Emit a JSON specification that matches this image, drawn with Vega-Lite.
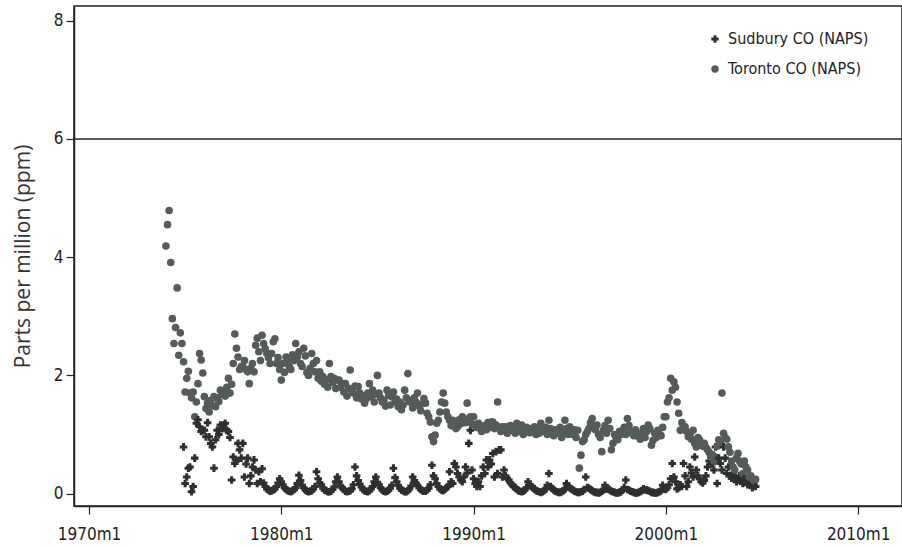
{
  "$schema": "https://vega.github.io/schema/vega-lite/v6.json",
  "autosize": {"type": "none"},
  "padding": {"left": 74, "top": 6, "right": 0, "bottom": 42},
  "width": 828,
  "height": 500,
  "background": "white",
  "config": {
    "view": {"stroke": "#222", "strokeWidth": 1.5},
    "axis": {"grid": false, "domainColor": "#222", "domainWidth": 1.5, "tickColor": "#222", "tickWidth": 1.2, "tickSize": 8, "labelFont": "DejaVu Sans Condensed, sans-serif", "labelFontSize": 17, "labelColor": "#222"},
    "legend": {"symbolSize": 55, "symbolOpacity": 1, "labelFont": "DejaVu Sans Condensed, sans-serif", "labelFontSize": 16, "labelColor": "#222", "rowPadding": 14, "labelOffset": 5, "labelLimit": 300}
  },
  "layer": [
    {
      "data": {"values": [
{"d":1974,"T":4.19},{"d":1974.083,"T":4.55},{"d":1974.167,"T":4.79},{"d":1974.25,"T":3.91},{"d":1974.333,"T":2.96},{"d":1974.417,"T":2.54},{"d":1974.5,"T":2.81},{"d":1974.583,"T":3.48},{"d":1974.667,"T":2.34},{"d":1974.75,"T":2.72},{"d":1974.833,"T":2.54},{"d":1974.917,"T":2.23,"S":0.79},
{"d":1975,"T":1.72,"S":0.17},{"d":1975.083,"T":1.95,"S":0.28},{"d":1975.167,"T":2.07,"S":0.43},{"d":1975.25,"T":1.70,"S":0.45},{"d":1975.333,"T":1.62,"S":0.03},{"d":1975.417,"T":1.72,"S":0.12},{"d":1975.5,"T":1.30,"S":0.60},{"d":1975.583,"T":1.55,"S":1.19},{"d":1975.667,"T":1.86,"S":1.25},{"d":1975.75,"T":2.37,"S":1.13},{"d":1975.833,"T":2.26,"S":1.05},{"d":1975.917,"T":2.04,"S":1.07},
{"d":1976,"T":1.64,"S":1.07},{"d":1976.083,"T":1.44,"S":0.96},{"d":1976.167,"T":1.53,"S":1.20},{"d":1976.25,"T":1.38,"S":0.96},{"d":1976.333,"T":1.58,"S":0.85},{"d":1976.417,"T":1.49,"S":0.79},{"d":1976.5,"T":1.64,"S":0.43},{"d":1976.583,"T":1.47,"S":0.91},{"d":1976.667,"T":1.62,"S":1.07},{"d":1976.75,"T":1.56,"S":1.00},{"d":1976.833,"T":1.75,"S":1.16},{"d":1976.917,"T":1.68,"S":1.10},
{"d":1977,"T":1.72,"S":1.16},{"d":1977.083,"T":1.65,"S":1.19},{"d":1977.167,"T":1.80,"S":1.07},{"d":1977.25,"T":1.95,"S":1.05},{"d":1977.333,"T":1.70,"S":0.95},{"d":1977.417,"T":1.85,"S":0.23},{"d":1977.5,"T":2.20,"S":0.62},{"d":1977.583,"T":2.70,"S":0.51},{"d":1977.667,"T":2.46,"S":0.55},{"d":1977.75,"T":2.31,"S":0.85},{"d":1977.833,"T":2.10,"S":0.74},{"d":1977.917,"T":2.15,"S":0.60},
{"d":1978,"T":2.15,"S":0.85},{"d":1978.083,"T":2.25,"S":0.28},{"d":1978.167,"T":2.10,"S":0.50},{"d":1978.25,"T":2.06,"S":0.60},{"d":1978.333,"T":1.86,"S":0.17},{"d":1978.417,"T":2.12,"S":0.30},{"d":1978.5,"T":2.20,"S":0.45},{"d":1978.583,"T":2.06,"S":0.57},{"d":1978.667,"T":2.51,"S":0.40},{"d":1978.75,"T":2.63,"S":0.17},{"d":1978.833,"T":2.40,"S":0.37},{"d":1978.917,"T":2.25,"S":0.20},
{"d":1979,"T":2.68,"S":0.42},{"d":1979.083,"T":2.54,"S":0.18},{"d":1979.167,"T":2.45,"S":0.12},{"d":1979.25,"T":2.37,"S":0.08},{"d":1979.333,"T":2.30,"S":0.06},{"d":1979.417,"T":2.20,"S":0.04},{"d":1979.5,"T":2.37,"S":0.05},{"d":1979.583,"T":2.57,"S":0.06},{"d":1979.667,"T":2.62,"S":0.08},{"d":1979.75,"T":2.20,"S":0.12},{"d":1979.833,"T":2.30,"S":0.18},{"d":1979.917,"T":2.10,"S":0.25},
{"d":1980,"T":1.92,"S":0.20},{"d":1980.083,"T":2.20,"S":0.15},{"d":1980.167,"T":2.05,"S":0.10},{"d":1980.25,"T":2.31,"S":0.07},{"d":1980.333,"T":2.25,"S":0.05},{"d":1980.417,"T":2.15,"S":0.04},{"d":1980.5,"T":2.10,"S":0.03},{"d":1980.583,"T":2.35,"S":0.05},{"d":1980.667,"T":2.25,"S":0.07},{"d":1980.75,"T":2.54,"S":0.10},{"d":1980.833,"T":2.31,"S":0.17},{"d":1980.917,"T":2.40,"S":0.31},
{"d":1981,"T":2.20,"S":0.22},{"d":1981.083,"T":2.15,"S":0.14},{"d":1981.167,"T":2.46,"S":0.10},{"d":1981.25,"T":2.33,"S":0.06},{"d":1981.333,"T":2.05,"S":0.04},{"d":1981.417,"T":2.00,"S":0.03},{"d":1981.5,"T":2.12,"S":0.04},{"d":1981.583,"T":2.37,"S":0.05},{"d":1981.667,"T":2.20,"S":0.08},{"d":1981.75,"T":2.06,"S":0.12},{"d":1981.833,"T":2.25,"S":0.37},{"d":1981.917,"T":1.95,"S":0.25},
{"d":1982,"T":2.06,"S":0.18},{"d":1982.083,"T":1.90,"S":0.15},{"d":1982.167,"T":1.98,"S":0.09},{"d":1982.25,"T":1.85,"S":0.06},{"d":1982.333,"T":1.92,"S":0.05},{"d":1982.417,"T":1.80,"S":0.03},{"d":1982.5,"T":2.20,"S":0.03},{"d":1982.583,"T":1.98,"S":0.04},{"d":1982.667,"T":1.88,"S":0.07},{"d":1982.75,"T":1.95,"S":0.11},{"d":1982.833,"T":1.78,"S":0.20},{"d":1982.917,"T":1.92,"S":0.28},
{"d":1983,"T":1.92,"S":0.20},{"d":1983.083,"T":1.80,"S":0.13},{"d":1983.167,"T":1.86,"S":0.10},{"d":1983.25,"T":1.72,"S":0.07},{"d":1983.333,"T":1.86,"S":0.04},{"d":1983.417,"T":1.65,"S":0.03},{"d":1983.5,"T":1.78,"S":0.04},{"d":1983.583,"T":2.09,"S":0.05},{"d":1983.667,"T":1.75,"S":0.08},{"d":1983.75,"T":1.70,"S":0.15},{"d":1983.833,"T":1.82,"S":0.45},{"d":1983.917,"T":1.62,"S":0.30},
{"d":1984,"T":1.81,"S":0.22},{"d":1984.083,"T":1.70,"S":0.16},{"d":1984.167,"T":1.60,"S":0.11},{"d":1984.25,"T":1.65,"S":0.07},{"d":1984.333,"T":1.53,"S":0.05},{"d":1984.417,"T":1.60,"S":0.04},{"d":1984.5,"T":1.70,"S":0.03},{"d":1984.583,"T":1.86,"S":0.05},{"d":1984.667,"T":1.64,"S":0.08},{"d":1984.75,"T":1.75,"S":0.12},{"d":1984.833,"T":1.55,"S":0.20},{"d":1984.917,"T":1.68,"S":0.28},
{"d":1985,"T":2.00,"S":0.19},{"d":1985.083,"T":1.70,"S":0.15},{"d":1985.167,"T":1.62,"S":0.10},{"d":1985.25,"T":1.55,"S":0.06},{"d":1985.333,"T":1.58,"S":0.04},{"d":1985.417,"T":1.48,"S":0.03},{"d":1985.5,"T":1.75,"S":0.04},{"d":1985.583,"T":1.66,"S":0.06},{"d":1985.667,"T":1.50,"S":0.09},{"d":1985.75,"T":1.64,"S":0.14},{"d":1985.833,"T":1.72,"S":0.43},{"d":1985.917,"T":1.55,"S":0.27},
{"d":1986,"T":1.60,"S":0.20},{"d":1986.083,"T":1.47,"S":0.14},{"d":1986.167,"T":1.55,"S":0.09},{"d":1986.25,"T":1.42,"S":0.06},{"d":1986.333,"T":1.50,"S":0.05},{"d":1986.417,"T":1.75,"S":0.03},{"d":1986.5,"T":1.62,"S":0.03},{"d":1986.583,"T":2.03,"S":0.05},{"d":1986.667,"T":1.55,"S":0.08},{"d":1986.75,"T":1.58,"S":0.13},{"d":1986.833,"T":1.45,"S":0.28},{"d":1986.917,"T":1.62,"S":0.22},
{"d":1987,"T":1.55,"S":0.18},{"d":1987.083,"T":1.70,"S":0.14},{"d":1987.167,"T":1.48,"S":0.10},{"d":1987.25,"T":1.40,"S":0.07},{"d":1987.333,"T":1.52,"S":0.05},{"d":1987.417,"T":1.61,"S":0.04},{"d":1987.5,"T":1.53,"S":0.04},{"d":1987.583,"T":1.36,"S":0.06},{"d":1987.667,"T":1.30,"S":0.09},{"d":1987.75,"T":1.21,"S":0.15},{"d":1987.833,"T":0.96,"S":0.48},{"d":1987.917,"T":0.88,"S":0.30},
{"d":1988,"T":0.99,"S":0.25},{"d":1988.083,"T":1.19,"S":0.17},{"d":1988.167,"T":1.24,"S":0.12},{"d":1988.25,"T":1.38,"S":0.08},{"d":1988.333,"T":1.55,"S":0.06},{"d":1988.417,"T":1.70,"S":0.05},{"d":1988.5,"T":1.53,"S":0.07},{"d":1988.583,"T":1.38,"S":0.10},{"d":1988.667,"T":1.30,"S":0.12},{"d":1988.75,"T":1.24,"S":0.37},{"d":1988.833,"T":1.15,"S":0.20},{"d":1988.917,"T":1.24,"S":0.17},
{"d":1989,"T":1.20,"S":0.51},{"d":1989.083,"T":1.10,"S":0.45},{"d":1989.167,"T":1.13,"S":0.34},{"d":1989.25,"T":1.25,"S":0.28},{"d":1989.333,"T":1.18,"S":0.23},{"d":1989.417,"T":1.30,"S":0.20},{"d":1989.5,"T":1.27,"S":0.28},{"d":1989.583,"T":1.20,"S":0.45},{"d":1989.667,"T":1.53,"S":0.35},{"d":1989.75,"T":1.25,"S":0.85},{"d":1989.833,"T":1.30,"S":1.07},{"d":1989.917,"T":1.18,"S":0.40},
{"d":1990,"T":1.30,"S":0.25},{"d":1990.083,"T":1.15,"S":0.17},{"d":1990.167,"T":1.12,"S":0.12},{"d":1990.25,"T":1.19,"S":0.20},{"d":1990.333,"T":1.10,"S":0.12},{"d":1990.417,"T":1.05,"S":0.30},{"d":1990.5,"T":1.10,"S":0.45},{"d":1990.583,"T":1.15,"S":0.34},{"d":1990.667,"T":1.08,"S":0.57},{"d":1990.75,"T":1.20,"S":0.45},{"d":1990.833,"T":1.12,"S":0.57},{"d":1990.917,"T":1.21,"S":0.50},
{"d":1991,"T":1.21,"S":0.68},{"d":1991.083,"T":1.10,"S":0.28},{"d":1991.167,"T":1.16,"S":0.71},{"d":1991.25,"T":1.55,"S":0.34},{"d":1991.333,"T":1.12,"S":0.74},{"d":1991.417,"T":1.05,"S":0.74},{"d":1991.5,"T":1.13,"S":0.28},{"d":1991.583,"T":1.08,"S":0.40},{"d":1991.667,"T":1.13,"S":0.30},{"d":1991.75,"T":1.02,"S":0.25},{"d":1991.833,"T":1.10,"S":0.23},{"d":1991.917,"T":1.15,"S":0.18},
{"d":1992,"T":1.07,"S":0.15},{"d":1992.083,"T":1.12,"S":0.12},{"d":1992.167,"T":1.02,"S":0.10},{"d":1992.25,"T":1.19,"S":0.07},{"d":1992.333,"T":1.10,"S":0.05},{"d":1992.417,"T":1.05,"S":0.04},{"d":1992.5,"T":1.16,"S":0.03},{"d":1992.583,"T":1.00,"S":0.04},{"d":1992.667,"T":1.09,"S":0.06},{"d":1992.75,"T":1.12,"S":0.10},{"d":1992.833,"T":1.07,"S":0.20},{"d":1992.917,"T":1.03,"S":0.15},
{"d":1993,"T":1.10,"S":0.12},{"d":1993.083,"T":1.05,"S":0.10},{"d":1993.167,"T":1.13,"S":0.08},{"d":1993.25,"T":1.00,"S":0.05},{"d":1993.333,"T":1.08,"S":0.04},{"d":1993.417,"T":1.02,"S":0.03},{"d":1993.5,"T":1.19,"S":0.02},{"d":1993.583,"T":1.10,"S":0.03},{"d":1993.667,"T":1.05,"S":0.05},{"d":1993.75,"T":1.12,"S":0.08},{"d":1993.833,"T":1.00,"S":0.14},{"d":1993.917,"T":1.24,"S":0.34},
{"d":1994,"T":1.10,"S":0.12},{"d":1994.083,"T":1.05,"S":0.09},{"d":1994.167,"T":0.98,"S":0.06},{"d":1994.25,"T":1.08,"S":0.04},{"d":1994.333,"T":1.02,"S":0.03},{"d":1994.417,"T":1.05,"S":0.02},{"d":1994.5,"T":1.12,"S":0.02},{"d":1994.583,"T":0.95,"S":0.03},{"d":1994.667,"T":1.02,"S":0.05},{"d":1994.75,"T":1.24,"S":0.08},{"d":1994.833,"T":1.10,"S":0.17},{"d":1994.917,"T":1.00,"S":0.12},
{"d":1995,"T":1.13,"S":0.10},{"d":1995.083,"T":1.05,"S":0.08},{"d":1995.167,"T":1.00,"S":0.06},{"d":1995.25,"T":1.08,"S":0.04},{"d":1995.333,"T":0.95,"S":0.03},{"d":1995.417,"T":1.07,"S":0.02},{"d":1995.5,"T":0.43,"S":0.02},{"d":1995.583,"T":0.65,"S":0.03},{"d":1995.667,"T":0.88,"S":0.04},{"d":1995.75,"T":0.91,"S":0.07},{"d":1995.833,"T":1.00,"S":0.28},{"d":1995.917,"T":1.05,"S":0.10},
{"d":1996,"T":1.10,"S":0.09},{"d":1996.083,"T":1.20,"S":0.07},{"d":1996.167,"T":1.27,"S":0.05},{"d":1996.25,"T":1.15,"S":0.03},{"d":1996.333,"T":1.08,"S":0.02},{"d":1996.417,"T":1.16,"S":0.02},{"d":1996.5,"T":1.00,"S":0.01},{"d":1996.583,"T":0.95,"S":0.02},{"d":1996.667,"T":0.71,"S":0.04},{"d":1996.75,"T":1.07,"S":0.06},{"d":1996.833,"T":1.15,"S":0.14},{"d":1996.917,"T":1.02,"S":0.08},
{"d":1997,"T":1.24,"S":0.08},{"d":1997.083,"T":1.10,"S":0.06},{"d":1997.167,"T":0.74,"S":0.04},{"d":1997.25,"T":0.85,"S":0.03},{"d":1997.333,"T":1.00,"S":0.02},{"d":1997.417,"T":0.95,"S":0.01},{"d":1997.5,"T":0.91,"S":0.01},{"d":1997.583,"T":1.05,"S":0.02},{"d":1997.667,"T":1.00,"S":0.03},{"d":1997.75,"T":1.07,"S":0.06},{"d":1997.833,"T":1.12,"S":0.10},{"d":1997.917,"T":1.00,"S":0.23},
{"d":1998,"T":1.27,"S":0.07},{"d":1998.083,"T":1.15,"S":0.06},{"d":1998.167,"T":1.05,"S":0.04},{"d":1998.25,"T":1.02,"S":0.03},{"d":1998.333,"T":0.98,"S":0.02},{"d":1998.417,"T":1.08,"S":0.01},{"d":1998.5,"T":1.00,"S":0.01},{"d":1998.583,"T":0.96,"S":0.02},{"d":1998.667,"T":0.92,"S":0.03},{"d":1998.75,"T":1.03,"S":0.05},{"d":1998.833,"T":1.10,"S":0.08},{"d":1998.917,"T":0.95,"S":0.06},
{"d":1999,"T":1.05,"S":0.06},{"d":1999.083,"T":1.16,"S":0.05},{"d":1999.167,"T":1.10,"S":0.04},{"d":1999.25,"T":0.82,"S":0.02},{"d":1999.333,"T":0.90,"S":0.02},{"d":1999.417,"T":1.02,"S":0.01},{"d":1999.5,"T":0.95,"S":0.01},{"d":1999.583,"T":1.07,"S":0.02},{"d":1999.667,"T":1.00,"S":0.03},{"d":1999.75,"T":0.98,"S":0.05},{"d":1999.833,"T":1.12,"S":0.14},{"d":1999.917,"T":1.30,"S":0.08},
{"d":2000,"T":1.30,"S":0.07},{"d":2000.083,"T":1.55,"S":0.10},{"d":2000.167,"T":1.62,"S":0.15},{"d":2000.25,"T":1.95,"S":0.25},{"d":2000.333,"T":1.75,"S":0.51},{"d":2000.417,"T":1.89,"S":0.28},{"d":2000.5,"T":1.80,"S":0.20},{"d":2000.583,"T":1.55,"S":0.08},{"d":2000.667,"T":1.36,"S":0.10},{"d":2000.75,"T":1.07,"S":0.15},{"d":2000.833,"T":1.20,"S":0.12},{"d":2000.917,"T":1.13,"S":0.51},
{"d":2001,"T":1.13,"S":0.30},{"d":2001.083,"T":1.05,"S":0.12},{"d":2001.167,"T":0.96,"S":0.20},{"d":2001.25,"T":1.00,"S":0.45},{"d":2001.333,"T":0.92,"S":0.35},{"d":2001.417,"T":1.07,"S":0.28},{"d":2001.5,"T":0.85,"S":0.62},{"d":2001.583,"T":0.79,"S":0.40},{"d":2001.667,"T":0.95,"S":0.30},{"d":2001.75,"T":0.91,"S":0.25},{"d":2001.833,"T":0.86,"S":0.20},{"d":2001.917,"T":0.80,"S":0.18},
{"d":2002,"T":0.85,"S":0.22},{"d":2002.083,"T":0.78,"S":0.30},{"d":2002.167,"T":0.74,"S":0.45},{"d":2002.25,"T":0.70,"S":0.55},{"d":2002.333,"T":0.62,"S":0.65},{"d":2002.417,"T":0.66,"S":0.50},{"d":2002.5,"T":0.55,"S":0.40},{"d":2002.583,"T":0.62,"S":0.79},{"d":2002.667,"T":0.80,"S":0.17},{"d":2002.75,"T":0.91,"S":0.60},{"d":2002.833,"T":0.88,"S":0.51},{"d":2002.917,"T":1.70,"S":0.40},
{"d":2003,"T":1.02,"S":0.79},{"d":2003.083,"T":0.95,"S":0.60},{"d":2003.167,"T":0.92,"S":0.34},{"d":2003.25,"T":0.79,"S":0.45},{"d":2003.333,"T":0.70,"S":0.30},{"d":2003.417,"T":0.55,"S":0.26},{"d":2003.5,"T":0.45,"S":0.35},{"d":2003.583,"T":0.40,"S":0.28},{"d":2003.667,"T":0.60,"S":0.20},{"d":2003.75,"T":0.68,"S":0.23},{"d":2003.833,"T":0.55,"S":0.30},{"d":2003.917,"T":0.50,"S":0.25},
{"d":2004,"T":0.34,"S":0.17},{"d":2004.083,"T":0.55,"S":0.25},{"d":2004.167,"T":0.45,"S":0.20},{"d":2004.25,"T":0.40,"S":0.15},{"d":2004.333,"T":0.28,"S":0.18},{"d":2004.417,"T":0.30,"S":0.14},{"d":2004.5,"T":0.25,"S":0.10},{"d":2004.583,"T":0.22,"S":0.15},{"d":2004.667,"T":0.24,"S":0.12}
      ]},
      "transform": [{"fold": ["S", "T"], "as": ["k", "v"]}],
      "mark": {"type": "point", "filled": true, "opacity": 1, "size": 58},
      "encoding": {
        "x": {"field": "d", "type": "quantitative",
          "scale": {"domain": [1969.22, 2012.28], "nice": false, "zero": false},
          "axis": {"values": [1970, 1980, 1990, 2000, 2010], "labelExpr": "datum.value + 'm1'", "title": null, "labelPadding": 12, "labelFlush": false}},
        "y": {"field": "v", "type": "quantitative",
          "scale": {"domain": [-0.21, 8.25], "nice": false, "zero": false},
          "axis": {"values": [0, 2, 4, 6, 8], "format": "d", "labelPadding": 3, "title": "Parts per million (ppm)", "titleFont": "Open Sans", "titleFontWeight": "normal", "titleFontSize": 21, "titleColor": "#333", "titlePadding": 20}},
        "shape": {"field": "k", "type": "nominal",
          "scale": {"domain": ["S", "T"], "range": ["cross", "circle"]},
          "legend": {"title": null, "orient": "none", "legendX": 633, "legendY": 25, "labelExpr": "datum.label == 'S' ? 'Sudbury CO (NAPS)' : 'Toronto CO (NAPS)'"}},
        "color": {"field": "k", "type": "nominal",
          "scale": {"domain": ["S", "T"], "range": ["#2e3030", "#555b5b"]},
          "legend": {"title": null, "orient": "none", "legendX": 633, "legendY": 25, "labelExpr": "datum.label == 'S' ? 'Sudbury CO (NAPS)' : 'Toronto CO (NAPS)'"}}
      }
    },
    {
      "data": {"values": [{"y": 6}]},
      "mark": {"type": "rule", "color": "#222", "strokeWidth": 1.5},
      "encoding": {"y": {"field": "y", "type": "quantitative"}}
    }
  ]
}
